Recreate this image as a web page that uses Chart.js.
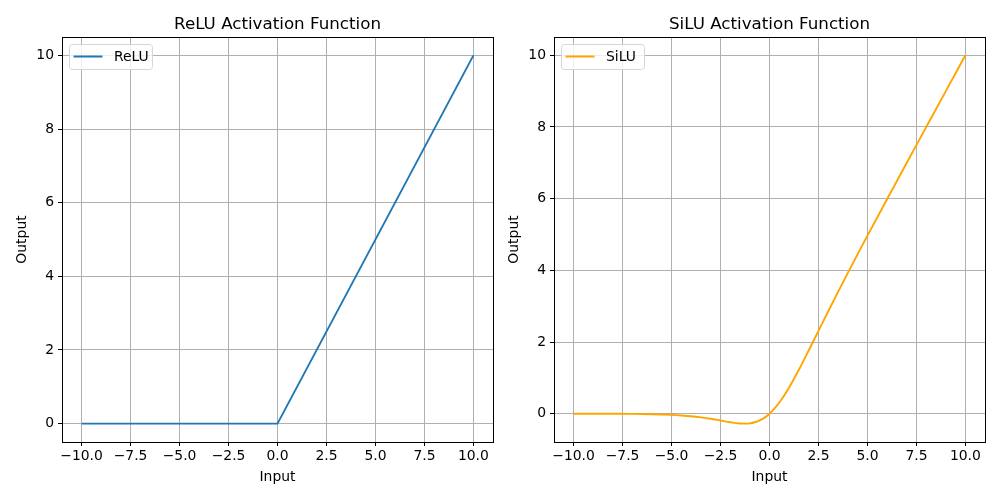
<!DOCTYPE html>
<html>
<head>
<meta charset="utf-8">
<script src="https://cdn.jsdelivr.net/npm/chart.js@4/dist/chart.umd.min.js"></script>
<style>
  body { margin: 0; background: #fff; }
  .wrap { position: relative; width: 1000px; height: 500px; }
  canvas { position: absolute; top: 0; }
</style>
</head>
<body>
<div class="wrap">
  <canvas id="reluChart" width="500" height="500" style="left:0"></canvas>
  <canvas id="siluChart" width="500" height="500" style="left:500px"></canvas>
</div>
<script>
// Data
const reluX = [-10, 0, 10];
const reluY = [0, 0, 10];

const siluX = [-10, -9, -8, -7, -6, -5, -4.5, -4, -3.5, -3, -2.5, -2, -1.5, -1.25, -1, -0.75, -0.5, -0.25, 0,
               0.25, 0.5, 0.75, 1, 1.5, 2, 2.5, 3, 3.5, 4, 4.5, 5, 6, 7, 8, 9, 10];
const siluY = [-0.0005, -0.001, -0.003, -0.006, -0.015, -0.034, -0.05, -0.072, -0.103, -0.142, -0.19, -0.238, -0.274, -0.278, -0.269, -0.239, -0.189, -0.11, 0,
               0.14, 0.311, 0.506, 0.731, 1.226, 1.762, 2.31, 2.858, 3.397, 3.928, 4.451, 4.967, 5.985, 6.994, 7.997, 8.999, 10.0];

const xTicks = [-10, -7.5, -5, -2.5, 0, 2.5, 5, 7.5, 10];
const yTicks = [0, 2, 4, 6, 8, 10];

const FONT = "'DejaVu Sans', sans-serif";

// top/right spines (chart.js only draws the axis borders)
const framePlugin = {
    id: 'frame',
    afterDatasetsDraw(chart) {
        const { ctx, chartArea: a } = chart;
        ctx.save();
        ctx.strokeStyle = '#000';
        ctx.lineWidth = 1;
        ctx.strokeRect(Math.round(a.left) + 0.5, Math.round(a.top) + 0.5,
                       Math.round(a.right - a.left), Math.round(a.bottom - a.top));
        ctx.restore();
    }
};

// title centred over the axes, not the whole canvas
const axesTitle = {
    id: 'axesTitle',
    afterDraw(chart, args, o) {
        const { ctx, chartArea: a } = chart;
        ctx.save();
        ctx.fillStyle = '#000';
        ctx.font = '16.7px ' + FONT;
        ctx.textAlign = 'center';
        ctx.textBaseline = 'alphabetic';
        ctx.fillText(o.text, (a.left + a.right) / 2, a.top - 8);
        ctx.restore();
    }
};

// matplotlib style legend box in the upper left
const boxLegend = {
    id: 'boxLegend',
    afterDraw(chart) {
        const { ctx, chartArea: a } = chart;
        const ds = chart.data.datasets[0];
        const x = a.left + 7.5, y = a.top + 7.5, w = 83, h = 25, r = 3;
        ctx.save();
        ctx.beginPath();
        ctx.roundRect(x, y, w, h, r);
        ctx.fillStyle = 'rgba(255,255,255,0.8)';
        ctx.fill();
        ctx.strokeStyle = '#d6d6d6';
        ctx.lineWidth = 1;
        ctx.stroke();
        ctx.beginPath();
        ctx.moveTo(x + 4, y + 12);
        ctx.lineTo(x + 33, y + 12);
        ctx.strokeStyle = ds.borderColor;
        ctx.lineWidth = 2;
        ctx.stroke();
        ctx.fillStyle = '#000';
        ctx.font = '13.9px ' + FONT;
        ctx.textBaseline = 'middle';
        ctx.fillText(ds.label, x + 44.5, y + 12.5);
        ctx.restore();
    }
};

function fmtX(v) {
    return (v < 0 ? '\u2212' : '') + Math.abs(v).toFixed(1);
}

function makeChart(id, opts) {
    const points = opts.xs.map((x, i) => ({ x: x, y: opts.ys[i] }));
    return new Chart(document.getElementById(id), {
        type: 'line',
        data: {
            datasets: [{
                label: opts.label,
                data: points,
                borderColor: opts.color,
                borderWidth: 1.9,
                pointRadius: 0,
                cubicInterpolationMode: opts.smooth ? 'monotone' : 'default',
                tension: 0
            }]
        },
        options: {
            responsive: false,
            animation: false,
            layout: { padding: { left: 0, right: opts.rightPad, top: 37, bottom: 0 } },
            plugins: {
                legend: { display: false },
                tooltip: { enabled: false },
                title: { display: false },
                axesTitle: { text: opts.title }
            },
            scales: {
                x: {
                    type: 'linear',
                    min: -11,
                    max: 11,
                    afterBuildTicks: s => { s.ticks = xTicks.map(v => ({ value: v })); },
                    afterFit: s => { s.height = 58; },
                    ticks: {
                        color: '#000',
                        font: { family: FONT, size: 13.9 },
                        padding: 2,
                        maxRotation: 0,
                        autoSkip: false,
                        callback: v => fmtX(v)
                    },
                    grid: { color: '#b0b0b0', lineWidth: 1, tickLength: 4, tickColor: '#000' },
                    border: { color: '#000', width: 1 },
                    title: {
                        display: true,
                        text: 'Input',
                        color: '#000',
                        font: { family: FONT, size: 13.9 },
                        padding: { top: 0, bottom: 14 }
                    }
                },
                y: {
                    type: 'linear',
                    min: opts.yMin,
                    max: opts.yMax,
                    afterBuildTicks: s => { s.ticks = yTicks.map(v => ({ value: v })); },
                    afterFit: s => { s.width = opts.axisWidth; },
                    ticks: {
                        color: '#000',
                        font: { family: FONT, size: 13.9 },
                        padding: 4,
                        autoSkip: false,
                        callback: v => String(v)
                    },
                    grid: { color: '#b0b0b0', lineWidth: 1, tickLength: 4, tickColor: '#000' },
                    border: { color: '#000', width: 1 },
                    title: {
                        display: true,
                        text: 'Output',
                        color: '#000',
                        font: { family: FONT, size: 13.9 },
                        padding: { top: opts.yTitlePad, bottom: 0 }
                    }
                }
            }
        },
        plugins: [framePlugin, axesTitle, boxLegend]
    });
}

makeChart('reluChart', {
    xs: reluX, ys: reluY, label: 'ReLU', color: '#1f77b4', smooth: false,
    title: 'ReLU Activation Function',
    yMin: -0.5, yMax: 10.5, axisWidth: 62, rightPad: 7, yTitlePad: 14
});

makeChart('siluChart', {
    xs: siluX, ys: siluY, label: 'SiLU', color: '#ffa500', smooth: true,
    title: 'SiLU Activation Function',
    yMin: -0.79, yMax: 10.51, axisWidth: 54, rightPad: 15, yTitlePad: 6
});
</script>
</body>
</html>
